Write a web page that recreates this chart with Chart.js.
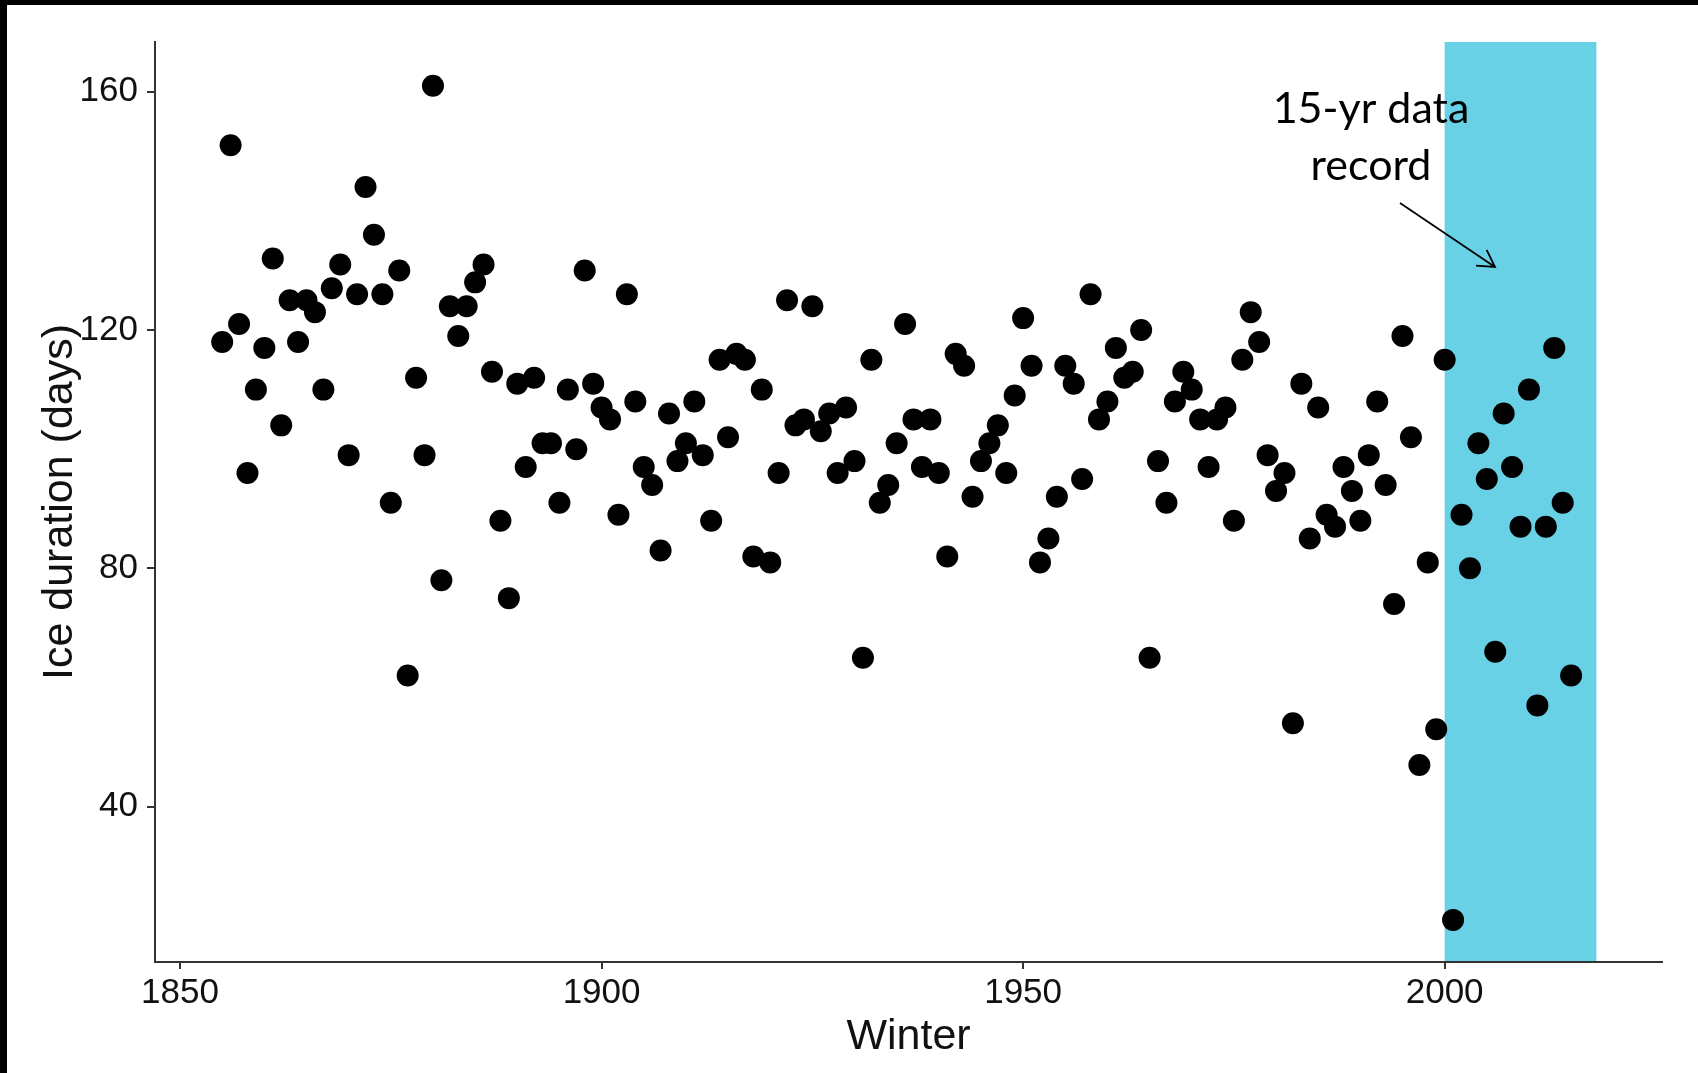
<!DOCTYPE html>
<html>
<head>
<meta charset="utf-8">
<script src="https://cdn.jsdelivr.net/npm/chart.js@4.4.1/dist/chart.umd.min.js"></script>
<style>
html,body{margin:0;padding:0;background:#fff;overflow:hidden}
#wrap{position:relative;width:1698px;height:1073px;background:#fff}
#frameTop{position:absolute;left:0;top:0;width:1698px;height:5px;background:#000}
#frameLeft{position:absolute;left:0;top:0;width:7px;height:1073px;background:#000}
</style>
</head>
<body>
<div id="wrap">
<canvas id="c" width="1698" height="1073"></canvas>
<div id="frameTop"></div>
<div id="frameLeft"></div>
</div>
<script>
// ---- data ----
const winters = [
1855,1856,1857,1858,1859,1860,1861,1862,1863,1864,1865,1866,1867,1868,1869,
1870,1871,1872,1873,1874,1875,1876,1877,1878,1879,1880,1881,1882,1883,1884,
1885,1886,1887,1888,1889,1890,1891,1892,1893,1894,1895,1896,1897,1898,1899,
1900,1901,1902,1903,1904,1905,1906,1907,1908,1909,1910,1911,1912,1913,1914,
1915,1916,1917,1918,1919,1920,1921,1922,1923,1924,1925,1926,1927,1928,1929,
1930,1931,1932,1933,1934,1935,1936,1937,1938,1939,1940,1941,1942,1943,1944,
1945,1946,1947,1948,1949,1950,1951,1952,1953,1954,1955,1956,1957,1958,1959,
1960,1961,1962,1963,1964,1965,1966,1967,1968,1969,1970,1971,1972,1973,1974,
1975,1976,1977,1978,1979,1980,1981,1982,1983,1984,1985,1986,1987,1988,1989,
1990,1991,1992,1993,1994,1995,1996,1997,1998,1999,2000,2001,2002,2003,2004,
2005,2006,2007,2008,2009,2010,2011,2012,2013,2014,2015];
const iceDays = [
118,151,121,96,110,117,132,104,125,118,125,123,110,127,131,
99,126,144,136,126,91,130,62,112,99,161,78,124,119,124,
128,131,113,88,75,111,97,112,101,101,91,110,100,130,111,
107,105,89,126,108,97,94,83,106,98,101,108,99,88,115,
102,116,115,82,110,81,96,125,104,105,124,103,106,96,107,
98,65,115,91,94,101,121,105,97,105,96,82,116,114,92,
98,101,104,96,109,122,114,81,85,92,114,111,95,126,105,
108,117,112,113,120,65,98,91,108,113,110,105,97,105,107,
88,115,123,118,99,93,96,54,111,85,107,89,87,97,93,
88,99,108,94,74,119,102,47,81,53,115,21,89,80,101,
95,66,106,97,87,110,57,87,117,91,62];
const xTicks = [1850, 1900, 1950, 2000];
const yTicks = [40, 80, 120, 160];
const recordStart = 2000;
const recordEnd = 2018;
const annotationLines = ['15-yr data', 'record'];
const xTitle = 'Winter';
const yTitle = 'Ice duration (days)';

// ---- styles ----
const FONT = '"Liberation Sans", Arial, sans-serif';
const bandColor = 'rgb(104,209,229)';
const axisColor = '#333333';
const textColor = '#111111';

const points = winters.map((w, i) => ({x: w, y: iceDays[i]}));

const bandPlugin = {
  id: 'recordBand',
  beforeDraw(chart) {
    const {ctx, chartArea: a, scales: {x}} = chart;
    const x0 = x.getPixelForValue(recordStart);
    const x1 = x.getPixelForValue(recordEnd);
    ctx.save();
    ctx.fillStyle = bandColor;
    ctx.fillRect(x0, a.top, x1 - x0, a.bottom - a.top);
    ctx.restore();
  }
};

const annotationPlugin = {
  id: 'annotation',
  afterDraw(chart) {
    const ctx = chart.ctx;
    ctx.save();
    ctx.fillStyle = '#000';
    ctx.font = '43px Lato, "Open Sans", sans-serif';
    ctx.textAlign = 'center';
    ctx.textBaseline = 'alphabetic';
    ctx.fillText(annotationLines[0], 1371, 123);
    ctx.fillText(annotationLines[1], 1371, 180);
    // arrow
    const sx = 1400, sy = 203, ex = 1495, ey = 267;
    ctx.strokeStyle = '#000';
    ctx.lineWidth = 1.8;
    ctx.beginPath();
    ctx.moveTo(sx, sy);
    ctx.lineTo(ex, ey);
    const ang = Math.atan2(ey - sy, ex - sx);
    const L = 19, spread = Math.PI / 6;
    ctx.moveTo(ex - L * Math.cos(ang - spread), ey - L * Math.sin(ang - spread));
    ctx.lineTo(ex, ey);
    ctx.lineTo(ex - L * Math.cos(ang + spread), ey - L * Math.sin(ang + spread));
    ctx.stroke();
    ctx.restore();
  }
};

new Chart(document.getElementById('c'), {
  type: 'scatter',
  data: {
    datasets: [{
      data: points,
      backgroundColor: '#000',
      borderColor: '#000',
      borderWidth: 0,
      pointRadius: 11,
      pointHoverRadius: 11,
      pointStyle: 'circle'
    }]
  },
  options: {
    responsive: false,
    animation: false,
    events: [],
    layout: {padding: {left: 8, top: 42, right: 36, bottom: 0}},
    plugins: {legend: {display: false}, tooltip: {enabled: false}},
    scales: {
      x: {
        type: 'linear',
        min: 1847.03,
        max: 2025.78,
        afterBuildTicks: s => { s.ticks = xTicks.map(v => ({value: v})); },
        afterFit: s => { s.height = 111; },
        grid: {display: true, drawOnChartArea: false, drawTicks: true, tickLength: 7, color: axisColor, lineWidth: 2},
        border: {display: true, color: axisColor, width: 2},
        ticks: {font: {family: FONT, size: 35}, color: textColor, padding: 3, maxRotation: 0, autoSkip: false, callback: v => String(v)},
        title: {display: true, text: xTitle, font: {family: FONT, size: 43}, color: textColor, padding: {top: 0, bottom: 10}}
      },
      y: {
        type: 'linear',
        min: 13.93,
        max: 168.34,
        afterBuildTicks: s => { s.ticks = yTicks.map(v => ({value: v})); },
        afterFit: s => { s.width = 147; },
        grid: {display: true, drawOnChartArea: false, drawTicks: true, tickLength: 8, color: axisColor, lineWidth: 2},
        border: {display: true, color: axisColor, width: 2},
        ticks: {font: {family: FONT, size: 35}, color: textColor, padding: 9, autoSkip: false, callback: v => String(v)},
        title: {display: true, text: yTitle, font: {family: FONT, size: 43}, color: textColor, padding: {top: 26, bottom: 0}}
      }
    }
  },
  plugins: [bandPlugin, annotationPlugin]
});
</script>
</body>
</html>
